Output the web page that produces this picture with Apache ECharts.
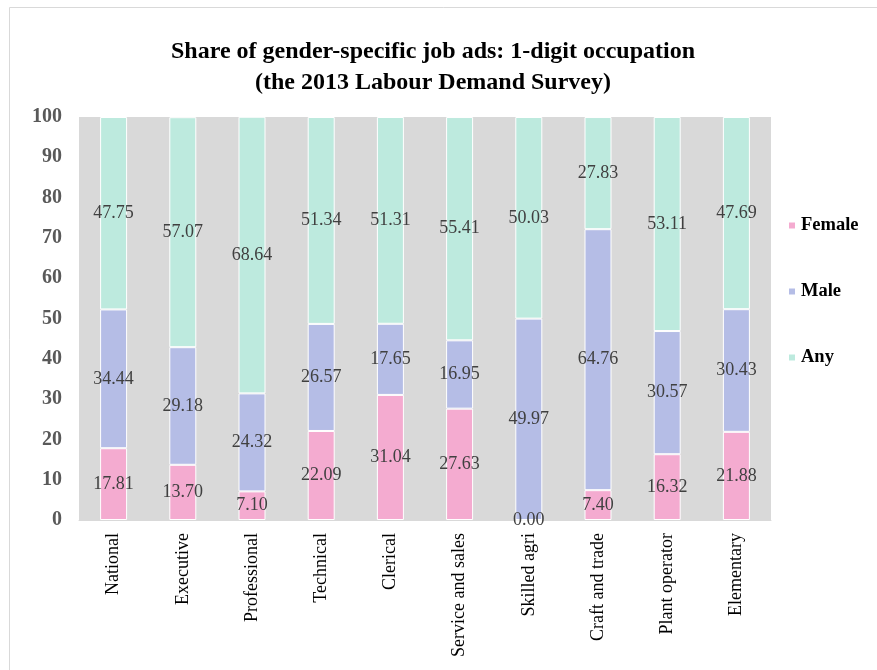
<!DOCTYPE html>
<html>
<head>
<meta charset="utf-8">
<script src="https://cdn.jsdelivr.net/npm/echarts@6/dist/echarts.min.js"></script>
<style>html,body{margin:0;padding:0;background:#fff;}#c{width:877px;height:670px;}</style>
</head>
<body>
<div id="c"></div>
<script>
const categories = ["National","Executive","Professional","Technical","Clerical","Service and sales","Skilled agri","Craft and trade","Plant operator","Elementary"];
const female = [17.81,13.70,7.10,22.09,31.04,27.63,0.00,7.40,16.32,21.88];
const male = [34.44,29.18,24.32,26.57,17.65,16.95,49.97,64.76,30.57,30.43];
const any = [47.75,57.07,68.64,51.34,51.31,55.41,50.03,27.83,53.11,47.69];
const titleLines = ["Share of gender-specific job ads: 1-digit occupation","(the 2013 Labour Demand Survey)"];

const serif = '"Liberation Serif","Times New Roman",serif';
const chart = echarts.init(document.getElementById('c'), null, {renderer:'canvas'});
function mk(name, data, color){
  return {
    name: name, type: 'bar', stack: 'total', data: data, barWidth: 27,
    itemStyle: {color: color, borderColor: '#ffffff', borderWidth: 1},
    label: {show: true, position: 'inside', formatter: p => p.value.toFixed(2),
      fontFamily: serif, fontSize: 18, color: '#404040'}
  };
}
chart.setOption({
  animation: false,
  backgroundColor: '#ffffff',
  graphic: [{type:'rect', shape:{x:9.5,y:7.5,width:900,height:700}, style:{fill:'none', stroke:'#d9d9d9', lineWidth:1}, silent:true}],
  title: {text: titleLines.join('\n'), left: 428, textAlign: 'center', top: 31,
    textStyle: {fontFamily: serif, fontWeight: 'bold', fontSize: 24, color: '#000', lineHeight: 31}},
  legend: {orient: 'vertical', left: 782, top: 211, itemWidth: 8, itemHeight: 8, itemGap: 47,
    icon: 'rect',
    textStyle: {fontFamily: serif, fontWeight: 'bold', fontSize: 18.5, color: '#000'},
    data: ['Female','Male','Any']},
  grid: {left: 79, right: 106, top: 117, bottom: 150, show: true, backgroundColor: '#d9d9d9', borderWidth: 0},
  xAxis: {type: 'category', data: categories,
    axisLine: {show: true, lineStyle: {color: '#d9d9d9'}}, axisTick: {show: false},
    axisLabel: {rotate: 90, interval: 0, margin: 13, fontFamily: serif, fontSize: 18, color: '#000'}},
  yAxis: {type: 'value', min: 0, max: 100, interval: 10,
    splitLine: {show: false}, axisLine: {show: false}, axisTick: {show: false},
    axisLabel: {margin: 17, fontFamily: serif, fontWeight: 'bold', fontSize: 20, color: '#595959'}},
  series: [mk('Female', female, '#f4abd0'), mk('Male', male, '#b5bde6'), mk('Any', any, '#bdeade')]
});
</script>
</body>
</html>
